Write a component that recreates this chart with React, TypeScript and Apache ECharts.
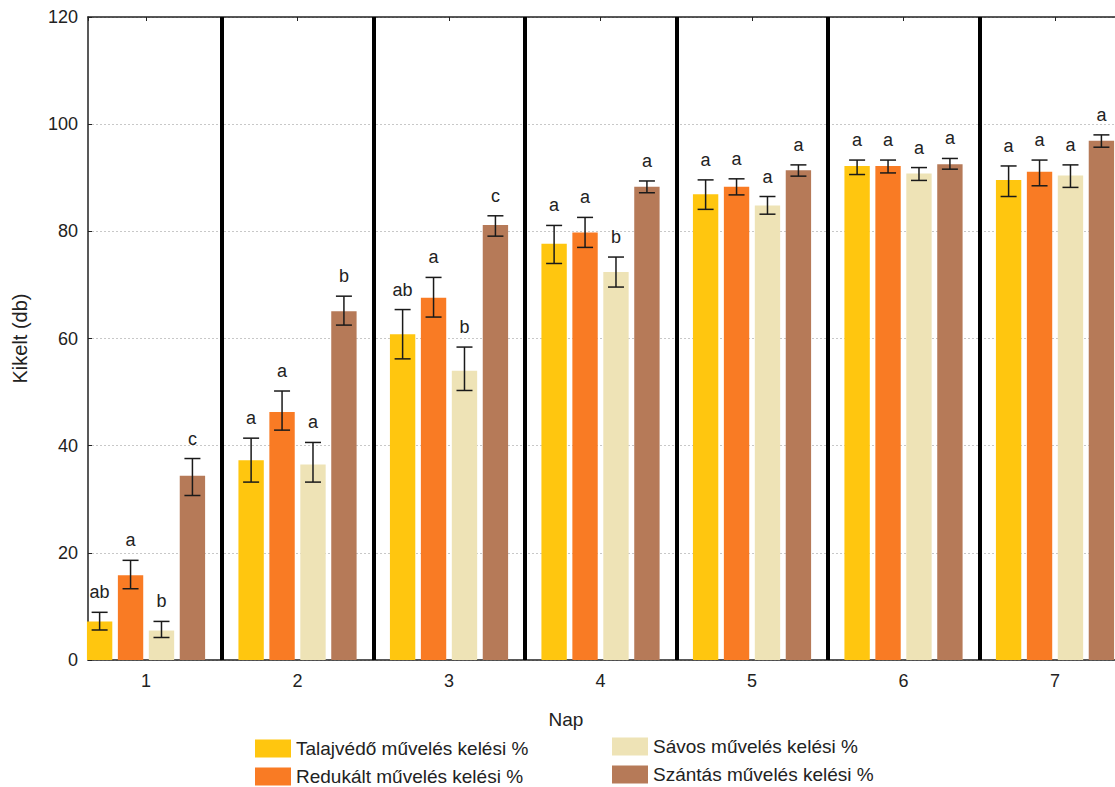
import React, { useEffect, useRef } from "react";
import * as echarts from "echarts";

const FONT = "Liberation Sans, Arial, sans-serif";

const days = [1, 2, 3, 4, 5, 6, 7];
const separators = [1.5, 2.5, 3.5, 4.5, 5.5, 6.5];
const seriesNames = [
  "Talajvédő művelés kelési %",
  "Redukált művelés kelési %",
  "Sávos művelés kelési %",
  "Szántás művelés kelési %",
];
const colors = ["#FFC60F", "#F97B24", "#EEE3B6", "#B67A58"];

// mean values
const talajvedo = [7.2, 37.3, 60.8, 77.7, 86.9, 92.2, 89.6];
const redukalt = [15.8, 46.3, 67.6, 79.8, 88.3, 92.2, 91.1];
const savos = [5.5, 36.5, 54.0, 72.4, 84.8, 90.8, 90.4];
const szantas = [34.4, 65.1, 81.2, 88.3, 91.4, 92.5, 96.9];

// error bar lows / highs
const talajvedoLow = [5.6, 33.2, 56.2, 74.0, 84.1, 90.6, 86.5];
const talajvedoHigh = [8.9, 41.4, 65.4, 81.1, 89.6, 93.3, 92.2];
const redukaltLow = [13.3, 42.9, 64.0, 77.0, 86.8, 90.9, 88.5];
const redukaltHigh = [18.6, 50.2, 71.4, 82.6, 89.8, 93.3, 93.3];
const savosLow = [4.2, 33.2, 50.3, 69.6, 83.2, 89.5, 88.2];
const savosHigh = [7.2, 40.6, 58.4, 75.2, 86.5, 91.9, 92.4];
const szantasLow = [30.7, 62.5, 79.1, 87.2, 90.3, 91.6, 95.7];
const szantasHigh = [37.6, 67.9, 82.9, 89.4, 92.4, 93.6, 98.0];

// significance letters
const talajvedoLetters = ["ab", "a", "ab", "a", "a", "a", "a"];
const redukaltLetters = ["a", "a", "a", "a", "a", "a", "a"];
const savosLetters = ["b", "a", "b", "b", "a", "a", "a"];
const szantasLetters = ["c", "b", "c", "a", "a", "a", "a"];

const yTicks = [0, 20, 40, 60, 80, 100, 120];

const means = [talajvedo, redukalt, savos, szantas];
const lows = [talajvedoLow, redukaltLow, savosLow, szantasLow];
const highs = [talajvedoHigh, redukaltHigh, savosHigh, szantasHigh];
const letters = [talajvedoLetters, redukaltLetters, savosLetters, szantasLetters];

const X_MIN = 0.617;
const X_MAX = 7.396;
const CAT_GAP = 0.22;
const BAR_GAP = 0.22;
const N = 4;

export default function App() {
  const ref = useRef<HTMLDivElement>(null);

  useEffect(() => {
    if (!ref.current) return;
    const chart = echarts.init(ref.current, null, { renderer: "svg" });

    const barSeries = seriesNames.map((name, i) => ({
      type: "bar",
      name,
      xAxisIndex: 0,
      yAxisIndex: 0,
      data: days.map((d, k) => [d, means[i][k]]),
      barGap: BAR_GAP * 100 + "%",
      barCategoryGap: CAT_GAP * 100 + "%",
      itemStyle: { color: colors[i] },
      z: 2,
    }));

    const errSeries = seriesNames.map((name, i) => ({
      type: "custom",
      name: name + " err",
      xAxisIndex: 0,
      yAxisIndex: 0,
      z: 4,
      clip: false,
      encode: { x: 0, y: [1, 2] },
      data: days.map((d, k) => [d, lows[i][k], highs[i][k]]),
      ...(i === 0
        ? {
            markLine: {
              silent: true,
              symbol: "none",
              label: { show: false },
              lineStyle: { color: "#000", width: 4, type: "solid" },
              data: separators.map((x) => ({ xAxis: x })),
              z: 5,
            },
          }
        : {}),
      renderItem: (params: any, api: any) => {
        const x = api.value(0);
        const lo = api.value(1);
        const hi = api.value(2);
        const band = api.size([1, 0])[0];
        const groupW = band * (1 - CAT_GAP);
        const bw = groupW / (N + (N - 1) * BAR_GAP);
        const off = -groupW / 2 + i * bw * (1 + BAR_GAP) + bw / 2;
        const pLo = api.coord([x, lo]);
        const pHi = api.coord([x, hi]);
        const cx = pLo[0] + off;
        const cap = 8;
        const stroke = { stroke: "#1a1a1a", lineWidth: 1.5 };
        return {
          type: "group",
          children: [
            { type: "line", shape: { x1: cx, y1: pHi[1], x2: cx, y2: pLo[1] }, style: stroke },
            { type: "line", shape: { x1: cx - cap, y1: pHi[1], x2: cx + cap, y2: pHi[1] }, style: stroke },
            { type: "line", shape: { x1: cx - cap, y1: pLo[1], x2: cx + cap, y2: pLo[1] }, style: stroke },
            {
              type: "text",
              x: cx,
              y: pHi[1] - 11,
              style: {
                text: letters[i][params.dataIndex],
                textAlign: "center",
                textVerticalAlign: "bottom",
                fontSize: 18,
                fontFamily: FONT,
                fill: "#222",
              },
            },
          ],
        };
      },
    }));

    const legendCommon = {
      orient: "vertical",
      padding: 0,
      width: 340,
      height: 80,
      itemWidth: 36,
      itemHeight: 18,
      itemGap: 9,
      icon: "rect",
      textStyle: { fontSize: 19, lineHeight: 18, color: "#222", fontFamily: FONT },
    };

    chart.setOption({
      animation: false,
      backgroundColor: "#fff",
      textStyle: { fontFamily: FONT },
      grid: { left: 88, right: 0, top: 17, bottom: 127, containLabel: false },
      xAxis: [
        {
          type: "value",
          position: "bottom",
          min: X_MIN,
          max: X_MAX,
          minInterval: 1,
          maxInterval: 1,
          axisLine: { show: true, onZero: false, lineStyle: { color: "#222", width: 1.5 } },
          axisTick: { show: false },
          splitLine: { show: false },
          axisLabel: {
            fontSize: 18,
            color: "#222",
            margin: 12,
            showMinLabel: false,
            showMaxLabel: false,
            formatter: (v: number) => (days.includes(v) ? String(v) : ""),
          },
        },
        {
          type: "value",
          position: "top",
          min: X_MIN,
          max: X_MAX,
          minInterval: 1,
          maxInterval: 1,
          axisLine: { show: true, onZero: false, lineStyle: { color: "#222", width: 1.5 } },
          axisTick: { show: true, inside: true, length: 4, lineStyle: { color: "#222" } },
          splitLine: { show: false },
          axisLabel: { show: false },
        },
      ],
      yAxis: {
        type: "value",
        min: yTicks[0],
        max: yTicks[yTicks.length - 1],
        interval: 20,
        name: "Kikelt (db)",
        nameLocation: "middle",
        nameGap: 58,
        nameTextStyle: { fontSize: 20, color: "#222", fontFamily: FONT },
        axisLine: { show: true, lineStyle: { color: "#222", width: 1.5 } },
        axisTick: { show: true, inside: true, length: 4, lineStyle: { color: "#222" } },
        axisLabel: { fontSize: 18, color: "#222", margin: 10 },
        splitLine: { show: true, lineStyle: { color: "#c8c8c8", type: [2, 2], width: 1 } },
      },
      legend: [
        { ...legendCommon, data: seriesNames.slice(0, 2), left: 255, top: 739 },
        { ...legendCommon, data: seriesNames.slice(2, 4), left: 612, top: 737 },
      ],
      graphic: [
        {
          type: "text",
          x: 566,
          y: 719,
          style: {
            text: "Nap",
            textAlign: "center",
            textVerticalAlign: "middle",
            fontSize: 19,
            fill: "#222",
            fontFamily: FONT,
          },
        },
      ],
      series: [...barSeries, ...errSeries],
    });

    return () => chart.dispose();
  }, []);

  return (
    <div
      ref={ref}
      style={{ position: "fixed", left: 0, top: 0, width: 1115, height: 787 }}
    />
  );
}
